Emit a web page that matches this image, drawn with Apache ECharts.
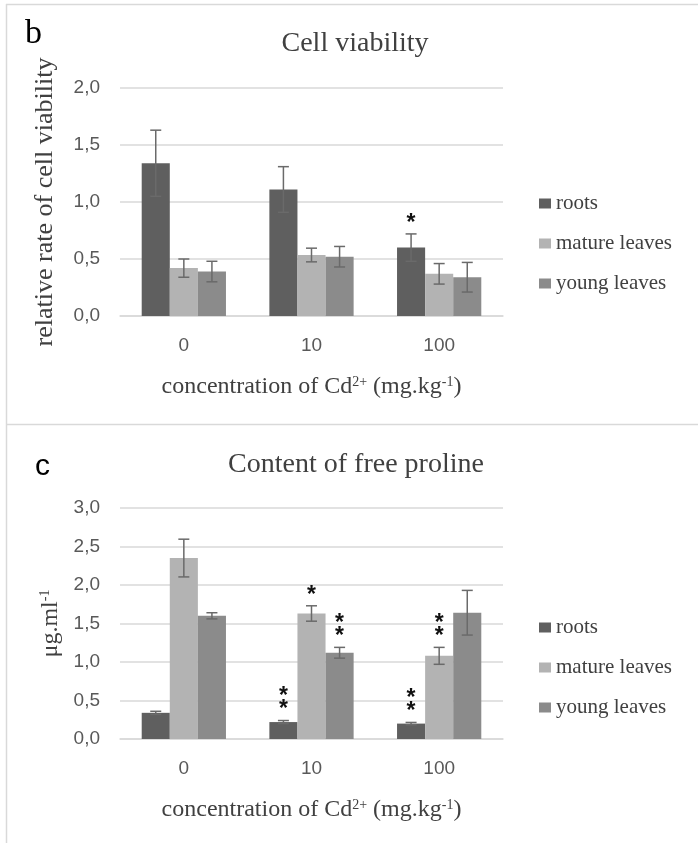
<!DOCTYPE html>
<html>
<head>
<meta charset="utf-8">
<style>
  html, body { margin: 0; padding: 0; background: #fff; }
  #chart { width: 698px; height: 843px; }
</style>
<script src="https://cdn.jsdelivr.net/npm/echarts@6/dist/echarts.min.js"></script>
</head>
<body>
<div id="chart"></div>
<script>
// categories and series
const categories = ["0", "10", "100"];
const seriesNames = ["roots", "mature leaves", "young leaves"];
const barColors = ["#5f5f5f", "#b3b3b3", "#8b8b8b"];

// b: cell viability
const viabRoots = [1.34, 1.11, 0.6];
const viabRootsErr = [0.29, 0.2, 0.12];
const viabMature = [0.42, 0.535, 0.37];
const viabMatureErr = [0.08, 0.06, 0.09];
const viabYoung = [0.39, 0.52, 0.34];
const viabYoungErr = [0.09, 0.09, 0.13];
const viabRootsSig = ["", "", "*"];
const viabMatureSig = ["", "", ""];
const viabYoungSig = ["", "", ""];

// c: free proline
const prolRoots = [0.34, 0.22, 0.2];
const prolRootsErr = [0.02, 0.02, 0.015];
const prolMature = [2.35, 1.63, 1.08];
const prolMatureErr = [0.245, 0.1, 0.11];
const prolYoung = [1.6, 1.12, 1.64];
const prolYoungErr = [0.04, 0.07, 0.29];
const prolRootsSig = ["", "**", "**"];
const prolMatureSig = ["", "*", "**"];
const prolYoungSig = ["", "**", ""];

const serif = "Liberation Serif, Times New Roman, serif";
const sans = "Liberation Sans, Arial, sans-serif";
const gridColor = "#d9d9d9";
const catGap = 0.34;

function fmt(v) {
  return v.toFixed(1).replace(".", ",");
}

function barSeries(k, values, axis) {
  return {
    type: "bar",
    name: seriesNames[k],
    xAxisIndex: axis,
    yAxisIndex: axis,
    data: values,
    barGap: "0%",
    barCategoryGap: catGap * 100 + "%",
    itemStyle: { color: barColors[k] },
    emphasis: { disabled: true }
  };
}

function errSeries(k, values, errs, sigs, axis) {
  return {
    type: "custom",
    name: "err" + axis + k,
    xAxisIndex: axis,
    yAxisIndex: axis,
    z: 5,
    data: values.map((v, i) => [i, v, errs[i]]),
    renderItem: function(params, api) {
      const x = api.value(0);
      const v = api.value(1);
      const e = api.value(2);
      const band = api.size([1, 0])[0];
      const off = ((k - 1) * band * (1 - catGap)) / 3;
      const top = api.coord([x, v + e]);
      const bot = api.coord([x, v - e]);
      const cx = top[0] + off;
      const st = { stroke: "#6a6a6a", lineWidth: 1.5 };
      const children = [
        { type: "line", shape: { x1: cx, y1: top[1], x2: cx, y2: bot[1] }, style: st },
        { type: "line", shape: { x1: cx - 5.5, y1: top[1], x2: cx + 5.5, y2: top[1] }, style: st },
        { type: "line", shape: { x1: cx - 5.5, y1: bot[1], x2: cx + 5.5, y2: bot[1] }, style: st }
      ];
      const sig = sigs[params.dataIndex];
      if (sig) {
        children.push({
          type: "text",
          style: {
            text: sig.split("").join("\n"),
            x: cx,
            y: top[1] - 4,
            align: "center",
            verticalAlign: "bottom",
            fontFamily: sans,
            fontSize: 23,
            fontWeight: "bold",
            lineHeight: 13,
            fill: "#111"
          }
        });
      }
      return { type: "group", children: children };
    }
  };
}

function xAxisOf(idx) {
  return {
    type: "category",
    gridIndex: idx,
    data: categories,
    axisTick: { show: false },
    axisLine: { lineStyle: { color: gridColor, width: 1.5 } },
    axisLabel: { color: "#595959", fontFamily: sans, fontSize: 19, margin: 20 },
    name: "concentration of Cd{sup|2+} (mg.kg{sup|-1})",
    nameLocation: "middle",
    nameGap: 59,
    nameTextStyle: {
      color: "#404040",
      fontFamily: serif,
      fontSize: 24,
      rich: {
        sup: { fontFamily: serif, fontSize: 14, verticalAlign: "top", color: "#404040" }
      }
    }
  };
}

function yAxisOf(idx, max, name, gap, size) {
  return {
    type: "value",
    gridIndex: idx,
    min: 0,
    max: max,
    interval: 0.5,
    axisLine: { show: false },
    axisTick: { show: false },
    splitLine: { lineStyle: { color: gridColor, width: 1.5 } },
    axisLabel: { color: "#595959", fontFamily: sans, fontSize: 19, margin: 20, formatter: fmt },
    name: name,
    nameLocation: "middle",
    nameGap: gap,
    nameTextStyle: {
      color: "#404040",
      fontFamily: serif,
      fontSize: size,
      rich: {
        sup: { fontFamily: serif, fontSize: 14, verticalAlign: "top", color: "#404040" }
      }
    }
  };
}

function legendOf(top) {
  return {
    orient: "vertical",
    left: 539,
    top: top,
    padding: 0,
    data: seriesNames,
    icon: "rect",
    itemWidth: 12,
    itemHeight: 10,
    itemGap: 19,
    selectedMode: false,
    textStyle: { color: "#404040", fontFamily: serif, fontSize: 21 }
  };
}

const chart = echarts.init(document.getElementById("chart"));
chart.setOption({
  animation: false,
  backgroundColor: "#fff",
  grid: [
    { left: 120, right: 195, top: 88, height: 228 },
    { left: 120, right: 195, top: 508, height: 231 }
  ],
  xAxis: [xAxisOf(0), xAxisOf(1)],
  yAxis: [
    yAxisOf(0, 2, "relative rate of cell viability", 62, 26),
    yAxisOf(1, 3, "μg.ml{sup|-1}", 53, 24)
  ],
  legend: [legendOf(193), legendOf(617)],
  series: [
    barSeries(0, viabRoots, 0),
    barSeries(1, viabMature, 0),
    barSeries(2, viabYoung, 0),
    errSeries(0, viabRoots, viabRootsErr, viabRootsSig, 0),
    errSeries(1, viabMature, viabMatureErr, viabMatureSig, 0),
    errSeries(2, viabYoung, viabYoungErr, viabYoungSig, 0),
    barSeries(0, prolRoots, 1),
    barSeries(1, prolMature, 1),
    barSeries(2, prolYoung, 1),
    errSeries(0, prolRoots, prolRootsErr, prolRootsSig, 1),
    errSeries(1, prolMature, prolMatureErr, prolMatureSig, 1),
    errSeries(2, prolYoung, prolYoungErr, prolYoungSig, 1)
  ],
  graphic: [
    { type: "line", shape: { x1: 6, y1: 4.5, x2: 698, y2: 4.5 }, style: { stroke: gridColor, lineWidth: 1.5 } },
    { type: "line", shape: { x1: 6.5, y1: 4, x2: 6.5, y2: 843 }, style: { stroke: gridColor, lineWidth: 1.5 } },
    { type: "line", shape: { x1: 6, y1: 424.5, x2: 698, y2: 424.5 }, style: { stroke: gridColor, lineWidth: 1.5 } },
    { type: "text", left: 25, top: 17, style: { text: "b", fontFamily: serif, fontSize: 34, fill: "#000" } },
    { type: "text", left: 35, top: 452, style: { text: "c", fontFamily: sans, fontSize: 30, fill: "#000" } },
    {
      type: "text",
      style: { text: "Cell viability", x: 355, y: 44, align: "center", verticalAlign: "middle", fontFamily: serif, fontSize: 28, fill: "#404040" }
    },
    {
      type: "text",
      style: { text: "Content of free proline", x: 356, y: 465, align: "center", verticalAlign: "middle", fontFamily: serif, fontSize: 28, fill: "#404040" }
    }
  ]
});
</script>
</body>
</html>
